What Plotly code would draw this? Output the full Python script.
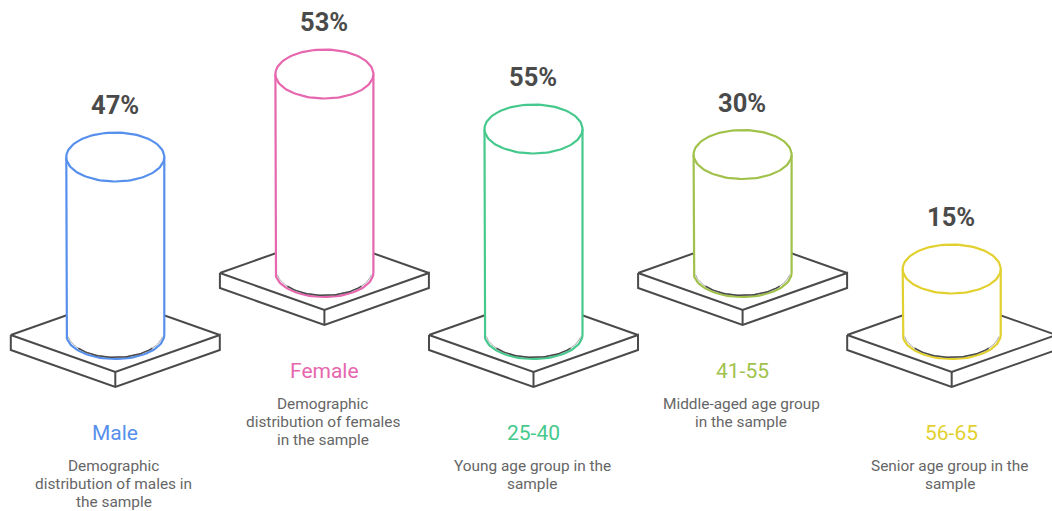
import numpy as np
import plotly.graph_objects as go

categories = ["Male", "Female", "25-40", "41-55", "56-65"]
shares = [47, 53, 55, 30, 15]
descriptions = [
    ["Demographic", "distribution of males in", "the sample"],
    ["Demographic", "distribution of females", "in the sample"],
    ["Young age group in the", "sample"],
    ["Middle-aged age group", "in the sample"],
    ["Senior age group in the", "sample"],
]
colors = ["#5790ec", "#e667ae", "#46c98c", "#a0c24b", "#e2d02f"]

W, H = 1052, 511
INK = "#4a4a4a"
RX, RY = 49, 24.5
PX, PY, THICK = 104.5, 37, 15
LINE_STEP = 18.2


def column_height(share):
    return 12.5 + 3.5 * share


def add_line(fig, x, y, color, width=2, fill=None):
    fig.add_trace(go.Scatter(
        x=x, y=y, mode="lines", line=dict(color=color, width=width),
        fill="toself" if fill else None, fillcolor=fill,
        hoverinfo="skip", showlegend=False,
    ))


def add_text(fig, x, y, text, size, color, weight=400):
    fig.add_annotation(
        x=x, y=y, text=text, showarrow=False, xanchor="center", yanchor="middle",
        align="center", font=dict(family="Roboto", size=size, color=color, weight=weight),
    )


fig = go.Figure()
theta = np.linspace(0, 2 * np.pi, 121)
lower = np.linspace(np.pi, 0, 61)

for i, (name, share, note, color) in enumerate(zip(categories, shares, descriptions, colors)):
    cx = 115.3 + 209.1 * i
    raised = i % 2 == 1
    base = 272 if raised else 334
    plate = base + 1

    # Square plate under the column, drawn as an isometric slab
    add_line(fig,
             [cx - PX, cx, cx + PX, cx + PX, cx, cx - PX, cx - PX],
             [plate, plate + PY, plate, plate + THICK, plate + PY + THICK, plate + THICK, plate],
             INK, fill="white")
    add_line(fig, [cx, cx], [plate + PY, plate + PY + THICK], INK)
    add_line(fig, [cx - PX, cx, cx + PX], [plate, plate - PY, plate], INK)

    # Cylinder whose height follows the share, with a soft dark rim inside the foot
    top = base - column_height(share)
    body_x = np.concatenate([[cx - RX], cx + RX * np.cos(lower), [cx + RX]])
    body_y = np.concatenate([[top], base + 0.5 + RY * np.sin(lower), [top]])
    add_line(fig, body_x, body_y, color, width=2.2, fill="white")
    add_line(fig, cx + (RX - 1.4) * np.cos(lower[3:-3]), base - 1.2 + RY * np.sin(lower[3:-3]), "#a8a8a8", width=1)
    add_line(fig, cx + (RX - 1.4) * np.cos(lower[13:-13]), base - 1.2 + RY * np.sin(lower[13:-13]), INK, width=1.5)
    add_line(fig, cx + RX * np.cos(theta), top + RY * np.sin(theta), color, width=2.2, fill="white")

    # Labels
    value_y = top - 52.5 + (0.8 if raised else 0)
    add_text(fig, cx - 0.3, value_y, f"{share}%", 25.5, INK, 700)
    title_y = 371 if raised else 433
    add_text(fig, cx, title_y, name, 21, color)
    for k, line in enumerate(note):
        add_text(fig, cx - 1.5, title_y + 33 + k * LINE_STEP, line, 15.4, "#666666")

fig.update_xaxes(range=[0, W], visible=False, fixedrange=True)
fig.update_yaxes(range=[H, 0], visible=False, fixedrange=True)
fig.update_layout(
    width=W, height=H, margin=dict(l=0, r=0, t=0, b=0),
    paper_bgcolor="white", plot_bgcolor="white", showlegend=False,
)
fig.write_html("out.html", config={"displayModeBar": False})
